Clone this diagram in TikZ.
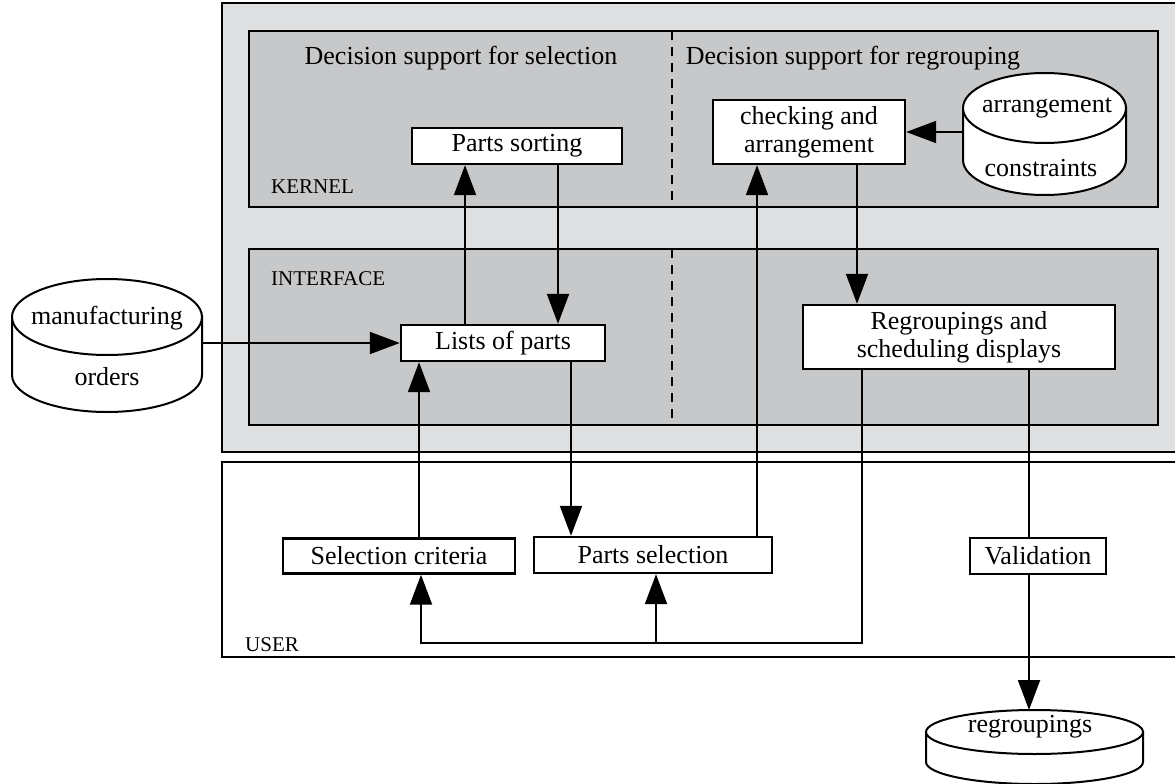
\documentclass[tikz,border=0pt]{standalone}
\usepackage{fontspec}
\setmainfont{Liberation Serif}
\usetikzlibrary{arrows.meta}
\definecolor{outerg}{RGB}{223,224,226}
\definecolor{innerg}{RGB}{199,200,202}
\begin{document}
\begin{tikzpicture}[x=1pt,y=-1pt,
  box/.style={draw, line width=2.4pt, fill=white, inner sep=0pt, font=\fontsize{26}{28}\selectfont, align=center},
  conn/.style={line width=2pt, -{Triangle[length=30pt,width=22pt]}},
  plain/.style={line width=2pt},
  panel/.style={draw, line width=2pt},
  divider/.style={line width=1.5pt, dash pattern=on 9pt off 7pt},
  lbl/.style={font=\fontsize{21}{24}\selectfont, anchor=base west, inner sep=0pt},
  ttl/.style={font=\fontsize{26}{28}\selectfont, inner sep=0pt},
  cylbody/.style={draw, line width=2pt, fill=white},
  area/.style={inner sep=0pt, outer sep=0pt}
]
\useasboundingbox (0,0) rectangle (1175,784);

% panels
\filldraw[panel, fill=outerg] (222,3) rectangle (1195,452);
\filldraw[panel, fill=innerg] (249,31) rectangle (1158,207);
\filldraw[panel, fill=innerg] (249,249) rectangle (1158,425);
\draw[divider] (672,31) -- (672,207);
\draw[divider] (672,249) -- (672,425);
\filldraw[panel, fill=white] (222,462) rectangle (1195,657);

\node[lbl] at (271,193) {KERNEL};
\node[lbl] at (271,285) {INTERFACE};
\node[lbl] at (245,651) {USER};
\node[ttl] (t1) at (461,58) {Decision support for selection};
\node[ttl] (t2) at (853,58) {Decision support for regrouping};

% boxes
\node[box, minimum width=210pt, minimum height=36pt] (partsort) at (517,146) {Parts sorting};
\node[box, minimum width=204pt, minimum height=36pt] (lists) at (503,343) {Lists of parts};
\node[box, minimum width=192pt, minimum height=64pt] (check) at (809,132) {checking and\\arrangement};
\node[box, minimum width=312pt, minimum height=64pt] (regr) at (959,337) {Regroupings and\\scheduling displays};
\node[box, minimum width=232pt, minimum height=35pt] (selcrit) at (399,556) {Selection criteria};
\node[box, minimum width=238pt, minimum height=36pt] (partsel) at (653,555) {Parts selection};
\node[box, minimum width=136pt, minimum height=36pt] (valid) at (1038,556) {Validation};

% cylinder: manufacturing orders
\draw[cylbody] (12,317) -- (12,375) arc[start angle=180,end angle=360,x radius=95pt,y radius=37pt] -- (202,317) -- cycle;
\draw[cylbody] (107,317) ellipse[x radius=95pt, y radius=38pt];
\node[area, minimum width=190pt, minimum height=134pt] (mfg) at (107,345) {};
\node[ttl] at (107,318) {manufacturing};
\node[ttl] at (107,377) {orders};

% cylinder: arrangement constraints
\draw[cylbody] (963,108) -- (963,160) arc[start angle=180,end angle=360,x radius=81.5pt,y radius=35pt] -- (1126,108) -- cycle;
\draw[cylbody] (1044.5,108) ellipse[x radius=81.5pt, y radius=35pt];
\node[area, minimum width=163pt, minimum height=122pt] (acon) at (1044.5,134) {};
\node[ttl] at (1047,108) {arrangement};
\node[ttl] at (1041,168) {constraints};

% cylinder: regroupings
\draw[cylbody] (926,732) -- (926,762) arc[start angle=180,end angle=360,x radius=108.5pt,y radius=22pt] -- (1143,732) -- cycle;
\draw[cylbody] (1034.5,732) ellipse[x radius=108.5pt, y radius=22pt];
\node[area, minimum width=217pt, minimum height=96pt] (rgc) at (1034.5,758) {};
\node[ttl] at (1030,727) {regroupings};

% x positions of connectors
\coordinate (xa) at (465,0);
\coordinate (xb) at (558,0);
\coordinate (xc) at (419,0);
\coordinate (xd) at (571,0);
\coordinate (xe) at (757,0);
\coordinate (xf) at (857,0);
\coordinate (xg) at (862,0);
\coordinate (xh) at (421,0);
\coordinate (xi) at (656,0);
\coordinate (xv) at (1029,0);
\coordinate (yl) at (0,643);

% connectors
\draw[conn] (lists.north -| xa) -- (partsort.south -| xa);
\draw[conn] (partsort.south -| xb) -- (lists.north -| xb);
\draw[conn] (mfg.east |- lists.west) -- (lists.west);
\draw[conn] (selcrit.north -| xc) -- (lists.south -| xc);
\draw[conn] (lists.south -| xd) -- (partsel.north -| xd);
\draw[conn] (partsel.north -| xe) -- (check.south -| xe);
\draw[conn] (acon.west |- check.east) -- (check.east);
\draw[conn] (check.south -| xf) -- (regr.north -| xf);
\draw[conn] (regr.south -| xg) -- (xg |- yl) -- (xh |- yl) -- (selcrit.south -| xh);
\draw[conn] (xi |- yl) -- (partsel.south -| xi);
\draw[plain] (regr.south -| xv) -- (valid.north -| xv);
\draw[conn] (valid.south -| xv) -- (rgc.north -| xv);
\end{tikzpicture}
\end{document}
